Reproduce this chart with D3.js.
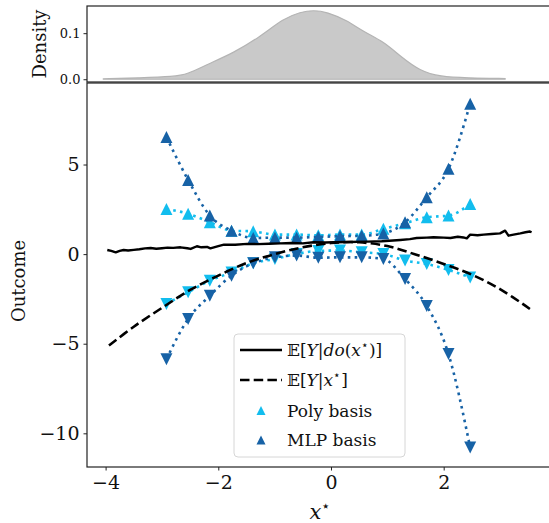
<!DOCTYPE html>
<html>
<head>
<meta charset="utf-8">
<script src="https://cdn.jsdelivr.net/npm/d3@7"></script>
<style>
  html, body { margin: 0; padding: 0; background: #fff; }
  svg { display: block; }
  text { font-family: "DejaVu Serif", "Liberation Serif", serif; fill: #111; }
</style>
</head>
<body>
<svg id="chart" width="549" height="523"></svg>
<script>
// ---- data ----
// interventional mean E[Y|do(x*)]
const doX = [-3.97,-3.9,-3.82,-3.75,-3.68,-3.6,-3.5,-3.4,-3.3,-3.2,-3.1,-3.0,-2.9,-2.8,-2.67,-2.55,-2.49,-2.38,-2.3,-2.2,-2.14,-2.0,-1.9,-1.7,-1.49,-1.3,-1.1,-0.9,-0.7,-0.5,-0.31,-0.1,0.05,0.3,0.64,0.9,1.1,1.23,1.4,1.52,1.7,1.82,2.0,2.12,2.25,2.35,2.41,2.47,2.6,2.71,2.85,3.0,3.09,3.15,3.24,3.36,3.45,3.53,3.56];
const doY = [0.23,0.18,0.1,0.18,0.23,0.2,0.24,0.27,0.32,0.34,0.3,0.33,0.36,0.35,0.38,0.33,0.29,0.44,0.38,0.4,0.32,0.45,0.53,0.52,0.57,0.56,0.58,0.6,0.62,0.6,0.66,0.65,0.66,0.68,0.7,0.72,0.76,0.79,0.84,0.9,0.92,0.94,0.92,0.9,0.97,0.93,0.88,1.09,1.05,1.09,1.12,1.16,1.31,1.03,1.09,1.16,1.22,1.26,1.22];

// observational mean E[Y|x*]
const obsX = [-3.94,-3.5,-3.0,-2.5,-2.0,-1.5,-1.0,-0.5,0,0.5,1.0,1.5,2.0,2.5,3.0,3.53];
const obsY = [-5.1,-4.05,-3.0,-2.0,-1.2,-0.5,0.0,0.38,0.62,0.66,0.45,-0.02,-0.55,-1.15,-1.95,-3.06];

// estimated bounds at the evaluation grid
const gridX = [-2.92,-2.535,-2.15,-1.765,-1.38,-0.995,-0.61,-0.225,0.16,0.545,0.93,1.315,1.7,2.085,2.47];
const polyUpper = [2.52,2.25,1.78,1.31,1.27,1.09,1.09,1.05,1.09,1.09,1.41,1.72,2.06,2.15,2.8];
const polyLower = [-2.78,-2.13,-1.48,-1.02,-0.51,-0.27,0.01,0.18,0.2,0.1,0.01,-0.36,-0.55,-0.88,-1.3];
const mlpUpper = [6.53,4.14,2.15,1.31,0.9,0.92,0.92,0.96,1.0,1.02,1.15,1.78,3.17,4.76,8.39];
const mlpLower = [-5.86,-3.62,-2.32,-1.2,-0.51,-0.18,-0.08,-0.2,-0.18,-0.18,-0.27,-1.39,-2.9,-5.58,-10.79];

// kernel density of x*
const densX = [-4.04,-3.4,-2.79,-2.55,-2.2,-1.73,-1.25,-0.84,-0.54,-0.31,-0.07,0.28,0.58,0.93,1.23,1.58,1.94,2.41,3.09];
const densY = [0.001,0.003,0.0057,0.0107,0.032,0.057,0.093,0.132,0.146,0.150,0.146,0.128,0.103,0.082,0.050,0.018,0.0057,0.0028,0.0015];

const xTicks = [-4, -2, 0, 2];
const yTicks = [-10, -5, 0, 5];
const densTicks = [0.0, 0.1];

const legendLabels = ["solid", "dashed", "Poly basis", "MLP basis"];

// ---- layout ----
const C_POLY = "#12bdee";
const C_MLP = "#1762a6";
const svg = d3.select("#chart");

const left = 87, right = 553;
const mainTop = 83, mainBottom = 467;
const topTop = 6, topBottom = 82;

const x = d3.scaleLinear().domain([-4.33, 3.94]).range([left, right]);
const y = d3.scaleLinear().domain([-11.88, 9.55]).range([mainBottom, mainTop]);
const yd = d3.scaleLinear().domain([-0.006, 0.159]).range([topBottom, topTop]);

// ---- density panel ----
const dens = densX.map((v, i) => [v, densY[i]]);
svg.append("path")
  .datum(dens)
  .attr("d", d3.area().x(d => x(d[0])).y0(yd(0)).y1(d => yd(d[1])).curve(d3.curveBasis))
  .attr("fill", "#c9c9c9")
  .attr("stroke", "#b4b4b4")
  .attr("stroke-width", 1.2);

const dAxis = svg.append("g")
  .attr("transform", `translate(${left},0)`)
  .call(d3.axisLeft(yd).tickValues(densTicks).tickFormat(d3.format(".1f")).tickSize(3.5).tickPadding(3));
dAxis.select(".domain").remove();
dAxis.selectAll("text").style("font-size", "13px").style("font-family", "DejaVu Serif");
dAxis.selectAll("line").attr("stroke", "#222");

svg.append("rect")
  .attr("x", left).attr("y", topTop)
  .attr("width", right - left).attr("height", topBottom - topTop)
  .attr("fill", "none").attr("stroke", "#222").attr("stroke-width", 1.2);

svg.append("text")
  .attr("transform", `translate(46,${(topTop + topBottom) / 2}) rotate(-90)`)
  .attr("text-anchor", "middle")
  .style("font-size", "18px")
  .text("Density");

// ---- main panel ----
svg.append("clipPath").attr("id", "plotclip")
  .append("rect").attr("x", left).attr("y", mainTop)
  .attr("width", right - left).attr("height", mainBottom - mainTop);

const plot = svg.append("g").attr("clip-path", "url(#plotclip)");

function pairs(xs, ys) { return xs.map((v, i) => [v, ys[i]]); }

const smooth = d3.line().x(d => x(d[0])).y(d => y(d[1])).curve(d3.curveMonotoneX);
const straight = d3.line().x(d => x(d[0])).y(d => y(d[1]));

// triangle marker, width = height = s
function tri(s, up) {
  const p = d3.path();
  const h = s / 2;
  if (up) { p.moveTo(0, -h); p.lineTo(h, h); p.lineTo(-h, h); }
  else { p.moveTo(0, h); p.lineTo(h, -h); p.lineTo(-h, -h); }
  p.closePath();
  return p.toString();
}

const estimates = [
  { ys: polyUpper, color: C_POLY, up: true },
  { ys: polyLower, color: C_POLY, up: false },
  { ys: mlpUpper, color: C_MLP, up: true },
  { ys: mlpLower, color: C_MLP, up: false }
];

estimates.forEach(e => {
  const pts = pairs(gridX, e.ys);
  plot.append("path").datum(pts)
    .attr("d", smooth)
    .attr("fill", "none")
    .attr("stroke", e.color)
    .attr("stroke-width", 2.6)
    .attr("stroke-dasharray", "2.6,4.3");
  plot.selectAll(null).data(pts).enter().append("path")
    .attr("transform", d => `translate(${x(d[0])},${y(d[1])})`)
    .attr("d", tri(12, e.up))
    .attr("fill", e.color);
});

plot.append("path").datum(pairs(obsX, obsY))
  .attr("d", d3.line().x(d => x(d[0])).y(d => y(d[1])).curve(d3.curveCatmullRom))
  .attr("fill", "none").attr("stroke", "#000")
  .attr("stroke-width", 2.6).attr("stroke-dasharray", "9.5,4.2");

plot.append("path").datum(pairs(doX, doY))
  .attr("d", straight)
  .attr("fill", "none").attr("stroke", "#000")
  .attr("stroke-width", 2.4).attr("stroke-linejoin", "round");

// axes
const minus = d => (d < 0 ? "\u2212" + Math.abs(d) : String(d));

const xAxis = svg.append("g")
  .attr("transform", `translate(0,${mainBottom})`)
  .call(d3.axisBottom(x).tickValues(xTicks).tickFormat(minus).tickSize(3.5).tickPadding(5));
xAxis.select(".domain").remove();
xAxis.selectAll("text").style("font-size", "19px").style("font-family", "DejaVu Serif");
xAxis.selectAll("line").attr("stroke", "#222");

const yAxis = svg.append("g")
  .attr("transform", `translate(${left},0)`)
  .call(d3.axisLeft(y).tickValues(yTicks).tickFormat(minus).tickSize(3.5).tickPadding(4));
yAxis.select(".domain").remove();
yAxis.selectAll("text").style("font-size", "19px").style("font-family", "DejaVu Serif");
yAxis.selectAll("line").attr("stroke", "#222");

svg.append("rect")
  .attr("x", left).attr("y", mainTop)
  .attr("width", right - left).attr("height", mainBottom - mainTop)
  .attr("fill", "none").attr("stroke", "#222").attr("stroke-width", 1.2);

svg.append("text")
  .attr("transform", `translate(25,${(mainTop + mainBottom) / 2 + 6}) rotate(-90)`)
  .attr("text-anchor", "middle")
  .style("font-size", "18px")
  .text("Outcome");

const xl = svg.append("text")
  .attr("x", (left + right) / 2).attr("y", 519)
  .attr("text-anchor", "middle")
  .style("font-size", "21px");
xl.append("tspan").style("font-style", "italic").text("x");
xl.append("tspan").attr("dy", -8).style("font-size", "15px").text("\u22C6");

// ---- legend ----
const lg = svg.append("g");
lg.append("rect")
  .attr("x", 234).attr("y", 334).attr("width", 171).attr("height", 123)
  .attr("rx", 4).attr("fill", "#fff").attr("fill-opacity", 0.85)
  .attr("stroke", "#d6d6d6").attr("stroke-width", 1);

const rowY = [350, 380, 410.5, 440];
const sx0 = 240, sx1 = 282, tx = 287;

lg.append("line").attr("x1", sx0).attr("x2", sx1).attr("y1", rowY[0]).attr("y2", rowY[0])
  .attr("stroke", "#000").attr("stroke-width", 2.6);
lg.append("line").attr("x1", sx0).attr("x2", sx1).attr("y1", rowY[1]).attr("y2", rowY[1])
  .attr("stroke", "#000").attr("stroke-width", 2.6).attr("stroke-dasharray", "9.5,4.2");
lg.append("path").attr("transform", `translate(${(sx0 + sx1) / 2},${rowY[2]})`)
  .attr("d", tri(9, true)).attr("fill", C_POLY);
lg.append("path").attr("transform", `translate(${(sx0 + sx1) / 2},${rowY[3]})`)
  .attr("d", tri(9, true)).attr("fill", C_MLP);

const fs = "17px";
function mathLabel(row, parts) {
  const t = lg.append("text").attr("x", tx).attr("y", rowY[row] + 6).style("font-size", fs);
  parts.forEach(p => {
    const s = t.append("tspan").text(p.t);
    if (p.i) s.style("font-style", "italic");
    if (p.sup) s.attr("dy", -7).style("font-size", "12px");
    if (p.down) s.attr("dy", 7);
  });
}
mathLabel(0, [{ t: "\uD835\uDD3C[" }, { t: "Y", i: 1 }, { t: "|" }, { t: "do", i: 1 }, { t: "(" }, { t: "x", i: 1 }, { t: "\u22C6", sup: 1 }, { t: ")]", down: 1 }]);
mathLabel(1, [{ t: "\uD835\uDD3C[" }, { t: "Y", i: 1 }, { t: "|" }, { t: "x", i: 1 }, { t: "\u22C6", sup: 1 }, { t: "]", down: 1 }]);
lg.append("text").attr("x", tx).attr("y", rowY[2] + 6).style("font-size", fs).text(legendLabels[2]);
lg.append("text").attr("x", tx).attr("y", rowY[3] + 6).style("font-size", fs).text(legendLabels[3]);
</script>
</body>
</html>
